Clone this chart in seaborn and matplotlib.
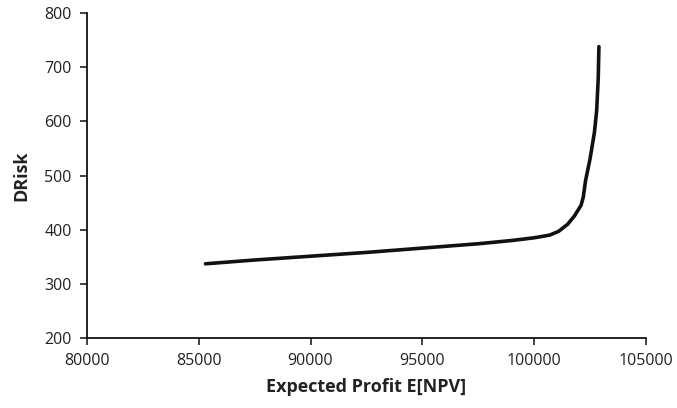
import pandas as pd
import seaborn as sns
import matplotlib.pyplot as plt

# values
npv = [85300, 87500, 90000, 92500, 95000, 97500, 99000, 100000, 100700,
       101100, 101500, 101800, 102100, 102200, 102300, 102500, 102700,
       102800, 102870, 102900]
drisk = [337, 344, 351, 358, 366, 374, 380, 385, 390,
         397, 410, 425, 445, 460, 490, 530, 580, 620, 680, 738]

df = pd.DataFrame({'npv': npv, 'drisk': drisk})

sns.set_style('ticks')
plt.rcParams['font.family'] = ['Open Sans', 'DejaVu Sans']

fig = plt.figure(figsize=(6.77, 4.08), dpi=100)
ax = fig.add_axes([0.1285, 0.1716, 0.8255, 0.7964])

sns.lineplot(df, x='npv', y='drisk', sort=False, estimator=None,
             color='#111111', linewidth=2.6, ax=ax)

ax.set_xlim(80000, 105000)
ax.set_ylim(200, 800)
ax.set_xticks(range(80000, 105001, 5000))
ax.set_yticks(range(200, 801, 100))
ax.set_xlabel('Expected Profit E[NPV]', fontsize=13, fontweight='bold',
              color='#222222', labelpad=6)
ax.set_ylabel('DRisk', fontsize=13, fontweight='bold', color='#222222', labelpad=10)
ax.tick_params(axis='both', labelsize=11.5, colors='#222222', direction='out',
               length=5, width=1.2, pad=6)
sns.despine(ax=ax)
for s in ['left', 'bottom']:
    ax.spines[s].set_linewidth(1.3)
    ax.spines[s].set_color('#111111')

fig.savefig('out.png', dpi=100)
